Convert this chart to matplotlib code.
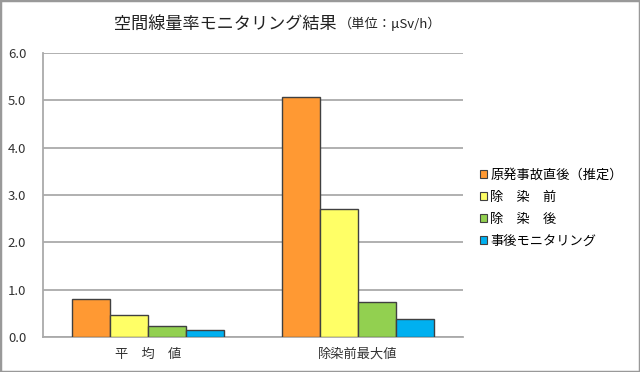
import matplotlib
matplotlib.use("Agg")
import matplotlib.pyplot as plt
from matplotlib.patches import Rectangle
import numpy as np

plt.rcParams['font.family'] = ['Noto Sans CJK JP', 'DejaVu Sans']

categories = ["平　均　値", "除染前最大値"]
series_names = ["原発事故直後（推定）", "除　染　前", "除　染　後", "事後モニタリング"]
series_values = [
    [0.80, 5.06],
    [0.46, 2.70],
    [0.23, 0.75],
    [0.15, 0.39],
]
colors = ["#FF9933", "#FFFF66", "#92D050", "#00B0F0"]
yticks = [0.0, 1.0, 2.0, 3.0, 4.0, 5.0, 6.0]

fig = plt.figure(figsize=(6.4, 3.72), dpi=100)
ax = fig.add_axes([43/640, 35/372, 420/640, 284/372])

x = np.arange(len(categories))
w = 0.181
for i in range(len(series_names)):
    ax.bar(x + (i - 1.5)*w, series_values[i], w, color=colors[i],
           edgecolor="#404040", linewidth=1, label=series_names[i], zorder=3)

ax.set_xlim(-0.5, 1.5)
ax.set_ylim(0, 6.0)
ax.set_yticks(yticks)
ax.set_yticklabels(["%.1f" % v for v in yticks], fontsize=9.5, color="#333333")
ax.set_xticks(x)
ax.set_xticklabels(categories, fontsize=9.5, color="#333333")
ax.tick_params(axis="both", length=0, pad=8)
ax.tick_params(axis="y", pad=12)
ax.grid(axis="y", color="#AAAAAA", linewidth=1.3, zorder=0)
for s in ["top", "right"]:
    ax.spines[s].set_visible(False)
ax.spines["left"].set_color("#AAAAAA")
ax.spines["bottom"].set_color("#AAAAAA")
ax.spines["left"].set_linewidth(1.3)
ax.spines["bottom"].set_linewidth(1.3)

leg = ax.legend(loc="upper left", bbox_to_anchor=(473/640, 1 - 162/372),
                bbox_transform=fig.transFigure, frameon=False, fontsize=9.5,
                handlelength=0.55, handleheight=0.55, handletextpad=0.25,
                labelspacing=0.68, borderpad=0)
for h in leg.legend_handles:
    h.set_linewidth(0.8)

fig.text(337/640, 1 - 24/372, "空間線量率モニタリング結果", fontsize=12.3,
         ha="right", va="center", color="#222222")
fig.text(339/640, 1 - 24/372, "（単位：μSv/h）", fontsize=9.5,
         ha="left", va="center", color="#222222")

fig.patches.append(Rectangle((0, 0), 1, 1, transform=fig.transFigure,
                             fill=False, edgecolor="#999999", linewidth=2.5))

fig.savefig("out.png", dpi=100)
